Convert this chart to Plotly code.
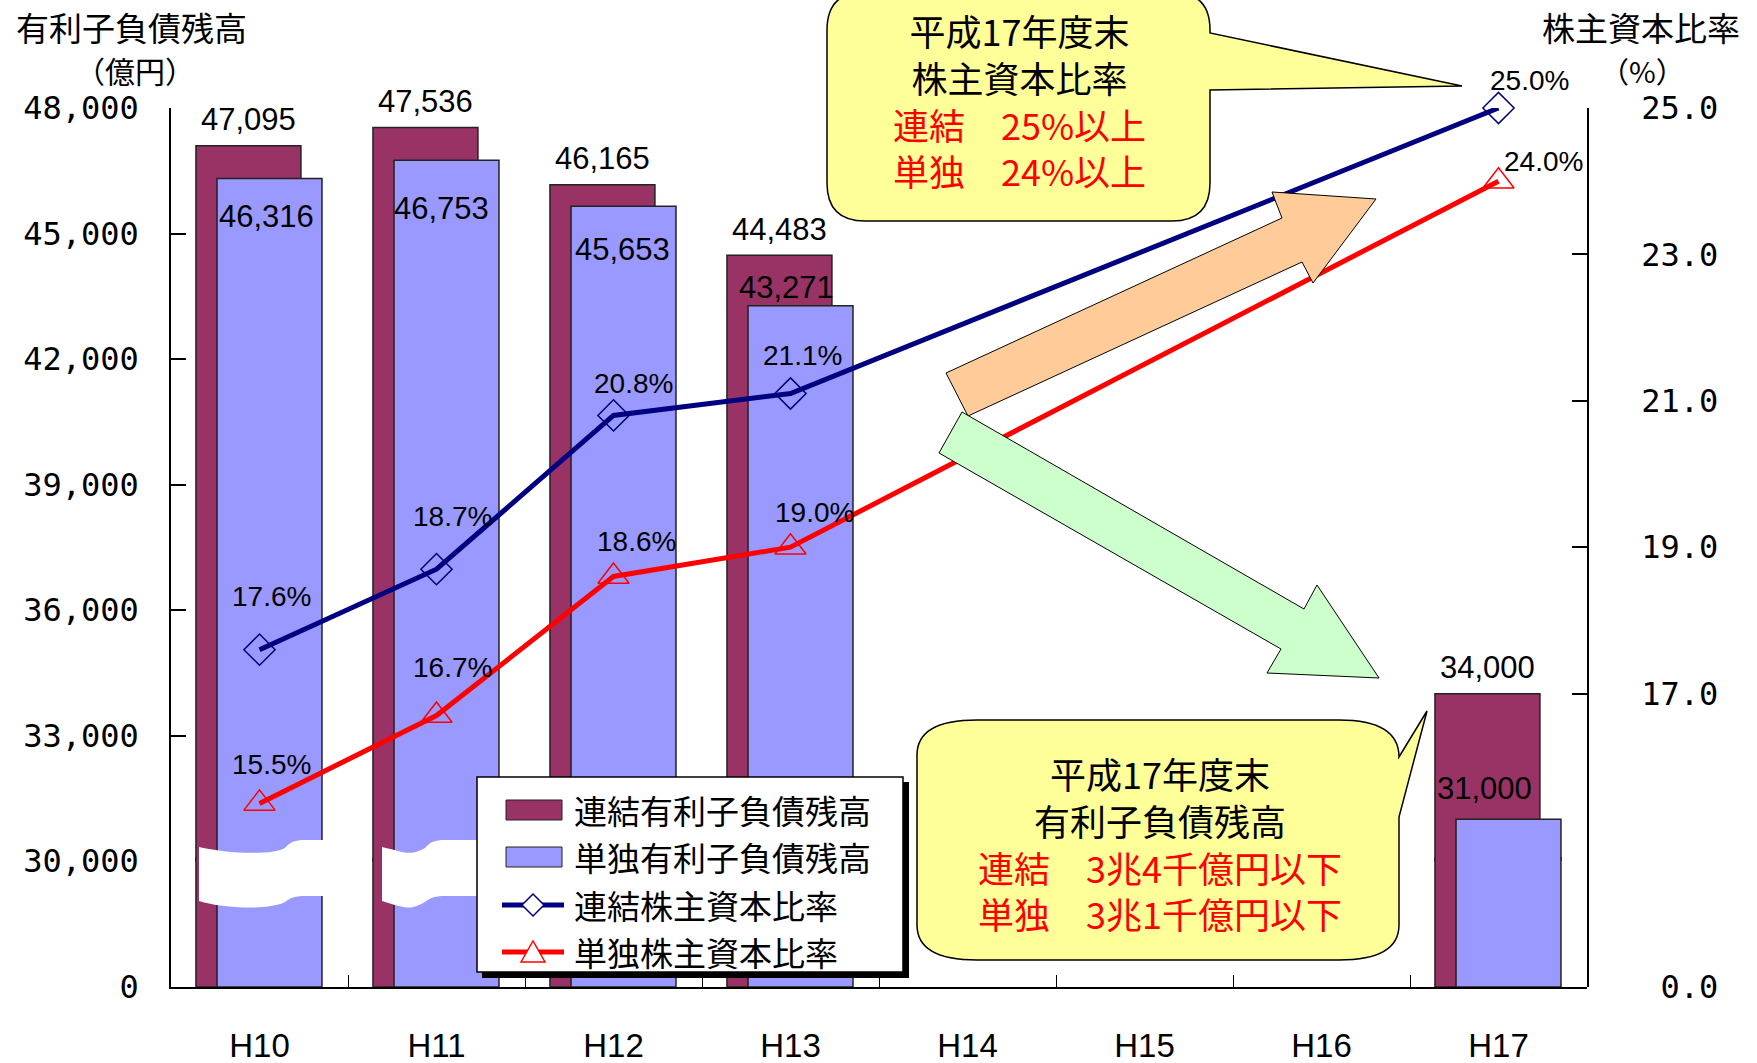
import plotly.graph_objects as go

# ---------------- data ----------------
categories = ["H10", "H11", "H12", "H13", "H14", "H15", "H16", "H17"]
debt_consol = [47095, 47536, 46165, 44483, None, None, None, 34000]
debt_single = [46316, 46753, 45653, 43271, None, None, None, 31000]
ratio_consol = [17.6, 18.7, 20.8, 21.1, None, None, None, 25.0]
ratio_single = [15.5, 16.7, 18.6, 19.0, None, None, None, 24.0]

left_ticks = [30000, 33000, 36000, 39000, 42000, 45000, 48000]
right_ticks = [15, 17, 19, 21, 23, 25]

series_names = ["連結有利子負債残高", "単独有利子負債残高", "連結株主資本比率", "単独株主資本比率"]

# ---------------- styles ----------------
W, H = 1757, 1063
ML, MR, MT, MB = 171, 170, 108, 76
PW, PH = W - ML - MR, H - MT - MB

C_MAROON = "#993366"
C_LAV = "#9999FF"
C_NAVY = "#000080"
C_RED = "#FF0000"
NUM_FONT = "Liberation Sans, Arial, sans-serif"
JP_FONT = "Noto Sans CJK JP, sans-serif"
TICK_FONT = "DejaVu Sans Mono, monospace"


def X(px):
    return (px - ML) / PW


def Y(py):
    return (H - MB - py) / PH


def pth(cmds):
    out = []
    for c in cmds:
        op, pts = c[0], c[1:]
        s = op + " ".join("%.5f,%.5f" % (X(p[0]), Y(p[1])) for p in pts)
        out.append(s)
    return " ".join(out) + " Z"


fig = go.Figure()

BAR_W = 0.593
OFF_C = -0.359
OFF_S = -0.240
bar_line = dict(color="#222222", width=1.5)

# bars drawn on both halves of the broken left axis
for ax in ["y", "y2"]:
    fig.add_trace(go.Bar(x=categories, y=debt_consol, width=BAR_W, offset=OFF_C,
                         marker=dict(color=C_MAROON, line=bar_line), yaxis=ax,
                         name=series_names[0], showlegend=False, hoverinfo="skip"))
    fig.add_trace(go.Bar(x=categories, y=debt_single, width=BAR_W, offset=OFF_S,
                         marker=dict(color=C_LAV, line=bar_line), yaxis=ax,
                         name=series_names[1], showlegend=False, hoverinfo="skip"))

# lower half of the broken right axis (no values fall there)
for vals, name in ((ratio_consol, series_names[2]), (ratio_single, series_names[3])):
    fig.add_trace(go.Scatter(x=categories, y=vals, yaxis="y3", mode="none", name=name,
                             showlegend=False, hoverinfo="skip"))

fig.add_trace(go.Scatter(x=categories, y=ratio_consol, yaxis="y4", mode="lines+markers",
                         connectgaps=True, cliponaxis=False, name=series_names[2], showlegend=False,
                         line=dict(color=C_NAVY, width=5),
                         marker=dict(symbol="diamond-open", size=24, color=C_NAVY,
                                     line=dict(color=C_NAVY, width=1.5))))
fig.add_trace(go.Scatter(x=categories, y=ratio_single, yaxis="y4", mode="lines+markers",
                         connectgaps=True, cliponaxis=False, name=series_names[3], showlegend=False,
                         line=dict(color=C_RED, width=5),
                         marker=dict(symbol="triangle-up-open", size=27, color=C_RED,
                                     line=dict(color=C_RED, width=1.5))))

annotations = []

# value labels on bars
shift_consol = [(-11, 26)] * 8
shift_single = [(7, -38), (5, -48), (9, -43), (-4, 18), (0, 0), (0, 0), (0, 0), (-14, 31)]
for i, c in enumerate(categories):
    if debt_consol[i] is not None:
        annotations.append(dict(x=c, y=debt_consol[i], xref="x", yref="y2", showarrow=False,
                                text=f"{debt_consol[i]:,}", xshift=shift_consol[i][0],
                                yshift=shift_consol[i][1], font=dict(family=NUM_FONT, size=31, color="black")))
    if debt_single[i] is not None:
        annotations.append(dict(x=c, y=debt_single[i], xref="x", yref="y2", showarrow=False,
                                text=f"{debt_single[i]:,}", xshift=shift_single[i][0],
                                yshift=shift_single[i][1], font=dict(family=NUM_FONT, size=31, color="black")))

# percent labels
pshift_c = [(12, 53), (16, 53), (20, 32), (12, 38), (0, 0), (0, 0), (0, 0), (31, 28)]
pshift_s = [(12, 39), (16, 48), (23, 35), (24, 35), (0, 0), (0, 0), (0, 0), (45, 20)]
for i, c in enumerate(categories):
    for vals, sh in ((ratio_consol, pshift_c), (ratio_single, pshift_s)):
        if vals[i] is not None:
            annotations.append(dict(x=c, y=vals[i], xref="x", yref="y4", showarrow=False,
                                    text=f"{vals[i]:.1f}%", xshift=sh[i][0], yshift=sh[i][1],
                                    font=dict(family=NUM_FONT, size=28, color="black")))

# axis titles
annotations += [
    dict(x=X(14), y=Y(27), xref="paper", yref="paper", xanchor="left", yanchor="middle",
         text="有利子負債残高", showarrow=False, font=dict(family=JP_FONT, size=33, color="black")),
    dict(x=X(135), y=Y(70), xref="paper", yref="paper", xanchor="center", yanchor="middle",
         text="（億円）", showarrow=False, font=dict(family=JP_FONT, size=30, color="black")),
    dict(x=X(1641), y=Y(27), xref="paper", yref="paper", xanchor="center", yanchor="middle",
         text="株主資本比率", showarrow=False, font=dict(family=JP_FONT, size=33, color="black")),
    dict(x=X(1642), y=Y(70), xref="paper", yref="paper", xanchor="center", yanchor="middle",
         text="（%）", showarrow=False, font=dict(family=JP_FONT, size=29, color="black")),
]

# callout texts
red = "<span style='color:#FF0000'>%s</span>"
annotations.append(dict(x=X(1019), y=Y(100), xref="paper", yref="paper", showarrow=False,
                        xanchor="center", yanchor="middle", align="center",
                        text="平成17年度末<br>株主資本比率<br>" + red % "連結\u300025%以上" + "<br>" + red % "単独\u300024%以上",
                        font=dict(family=JP_FONT, size=36, color="black")))
annotations.append(dict(x=X(1160), y=Y(843), xref="paper", yref="paper", showarrow=False,
                        xanchor="center", yanchor="middle", align="center",
                        text="平成17年度末<br>有利子負債残高<br>" + red % "連結\u30003兆4千億円以下" + "<br>" + red % "単独\u30003兆1千億円以下",
                        font=dict(family=JP_FONT, size=36, color="black")))

# legend texts
leg_rows = [810, 857, 905, 952]
for name, yy in zip(series_names, leg_rows):
    annotations.append(dict(x=X(572), y=Y(yy), xref="paper", yref="paper", showarrow=False,
                            xanchor="left", yanchor="middle", text=name,
                            font=dict(family=JP_FONT, size=33, color="black")))

shapes = []
# arrows
shapes.append(dict(type="path", xref="paper", yref="paper", layer="above",
                   path=pth([("M", (946, 373)), ("L", (1282, 218)), ("L", (1272, 192)), ("L", (1376, 199)),
                             ("L", (1313, 283)), ("L", (1302, 262)), ("L", (968, 416))]),
                   fillcolor="#FFCC99", line=dict(color="black", width=1)))
shapes.append(dict(type="path", xref="paper", yref="paper", layer="above",
                   path=pth([("M", (962, 412)), ("L", (1304, 609)), ("L", (1317, 585)), ("L", (1379, 678)),
                             ("L", (1267, 673)), ("L", (1281, 649)), ("L", (939, 453))]),
                   fillcolor="#CCFFCC", line=dict(color="black", width=1)))
# callout 1
shapes.append(dict(type="path", xref="paper", yref="paper", layer="above",
                   path=pth([("M", (865, -8)), ("L", (1172, -8)), ("Q", (1210, -8), (1210, 30)),
                             ("L", (1210, 33)), ("L", (1462, 86)), ("L", (1210, 90)),
                             ("L", (1210, 183)), ("Q", (1210, 221), (1172, 221)),
                             ("L", (865, 221)), ("Q", (827, 221), (827, 183)),
                             ("L", (827, 30)), ("Q", (827, -8), (865, -8))]),
                   fillcolor="#FFFF99", line=dict(color="black", width=1.5)))
# callout 2
shapes.append(dict(type="path", xref="paper", yref="paper", layer="above",
                   path=pth([("M", (977, 720)), ("L", (1339, 720)), ("Q", (1399, 720), (1399, 757)),
                             ("L", (1427, 711)), ("L", (1399, 817)),
                             ("L", (1399, 925)), ("Q", (1399, 960), (1339, 960)),
                             ("L", (977, 960)), ("Q", (917, 960), (917, 925)),
                             ("L", (917, 755)), ("Q", (917, 720), (977, 720))]),
                   fillcolor="#FFFF99", line=dict(color="black", width=1.5)))


# axis-break bands
def band(x0, xm, x1):
    return pth([("M", (x0, 847)), ("C", (x0 + 25, 853), (xm - 20, 856), (xm - 5, 848)),
                ("C", (xm, 842), (xm + 5, 840), (xm + 15, 840)), ("L", (x1, 840)),
                ("L", (x1, 896)), ("L", (xm + 15, 896)),
                ("C", (xm + 5, 896), (xm, 898), (xm - 5, 902)),
                ("C", (xm - 20, 910), (x0 + 25, 909), (x0, 901))])


for x0, xm, x1 in [(199, 290, 333), (382, 430, 478)]:
    shapes.append(dict(type="path", xref="paper", yref="paper", layer="above",
                       path=band(x0, xm, x1), fillcolor="white", line=dict(width=0)))

# legend box
shapes.append(dict(type="rect", xref="paper", yref="paper", layer="above",
                   x0=X(482), x1=X(909), y0=Y(782), y1=Y(978), fillcolor="black", line=dict(width=0)))
shapes.append(dict(type="rect", xref="paper", yref="paper", layer="above",
                   x0=X(477), x1=X(903), y0=Y(777), y1=Y(972), fillcolor="white",
                   line=dict(color="black", width=1.5)))
for col, yy in ((C_MAROON, leg_rows[0]), (C_LAV, leg_rows[1])):
    shapes.append(dict(type="rect", xref="paper", yref="paper", layer="above",
                       x0=X(506), x1=X(562), y0=Y(yy - 10), y1=Y(yy + 10), fillcolor=col,
                       line=dict(color="#222222", width=1)))
for col, yy in ((C_NAVY, leg_rows[2]), (C_RED, leg_rows[3])):
    shapes.append(dict(type="line", xref="paper", yref="paper", layer="above",
                       x0=X(502), x1=X(564), y0=Y(yy), y1=Y(yy), line=dict(color=col, width=5)))
shapes.append(dict(type="path", xref="paper", yref="paper", layer="above",
                   path=pth([("M", (522, 905)), ("L", (533, 894)), ("L", (544, 905)), ("L", (533, 916))]),
                   fillcolor="white", line=dict(color=C_NAVY, width=1.5)))
shapes.append(dict(type="path", xref="paper", yref="paper", layer="above",
                   path=pth([("M", (521, 962)), ("L", (533, 941)), ("L", (545, 962))]),
                   fillcolor="white", line=dict(color=C_RED, width=1.5)))

axis_common = dict(showgrid=False, zeroline=False, showline=True, linecolor="black", linewidth=1.5,
                   ticks="inside", ticklen=15, tickcolor="black", tickwidth=1.5, automargin=False,
                   tickfont=dict(family=TICK_FONT, size=32, color="black"), anchor="x")

# axis breaks placed on whole pixels so the two halves of each bar join cleanly
SPLIT_L = 126 / PH
SPLIT_R = 147 / PH
OVL = 4 / PH

fig.update_layout(
    width=W, height=H,
    margin=dict(l=ML, r=MR, t=MT, b=MB, pad=0, autoexpand=False),
    paper_bgcolor="white", plot_bgcolor="rgba(0,0,0,0)",
    barmode="overlay", showlegend=False,
    xaxis=dict(type="category", categoryorder="array", categoryarray=categories,
               showgrid=False, zeroline=False, showline=True, linecolor="black", linewidth=2,
               ticks="inside", ticklen=12, tickcolor="black", tickson="boundaries", automargin=False,
               tickfont=dict(family=NUM_FONT, size=33, color="black"), ticklabelstandoff=28,
               anchor="y", range=[-0.5, 7.5]),
    yaxis=dict(domain=[0, SPLIT_L + OVL], range=[0, 30000 * (SPLIT_L + OVL) / SPLIT_L],
               tickvals=[0], ticktext=["0"], side="left", ticklabelstandoff=24, **axis_common),
    yaxis2=dict(domain=[SPLIT_L, 1], range=[30000, 48000], tickvals=left_ticks,
                ticktext=[f"{v:,}" for v in left_ticks], side="left", ticklabelstandoff=24, **axis_common),
    yaxis3=dict(domain=[0, SPLIT_R], range=[0, 15], tickvals=[0], ticktext=["\u00a00.0"], side="right",
                ticklabelstandoff=46, **axis_common),
    yaxis4=dict(domain=[SPLIT_R, 1], range=[15, 25], tickvals=right_ticks,
                ticktext=["" if v == 15 else f"{v:.1f}" for v in right_ticks], side="right",
                ticklabelstandoff=46, **axis_common),
    annotations=annotations,
    shapes=shapes,
)

fig.write_html("out.html")
